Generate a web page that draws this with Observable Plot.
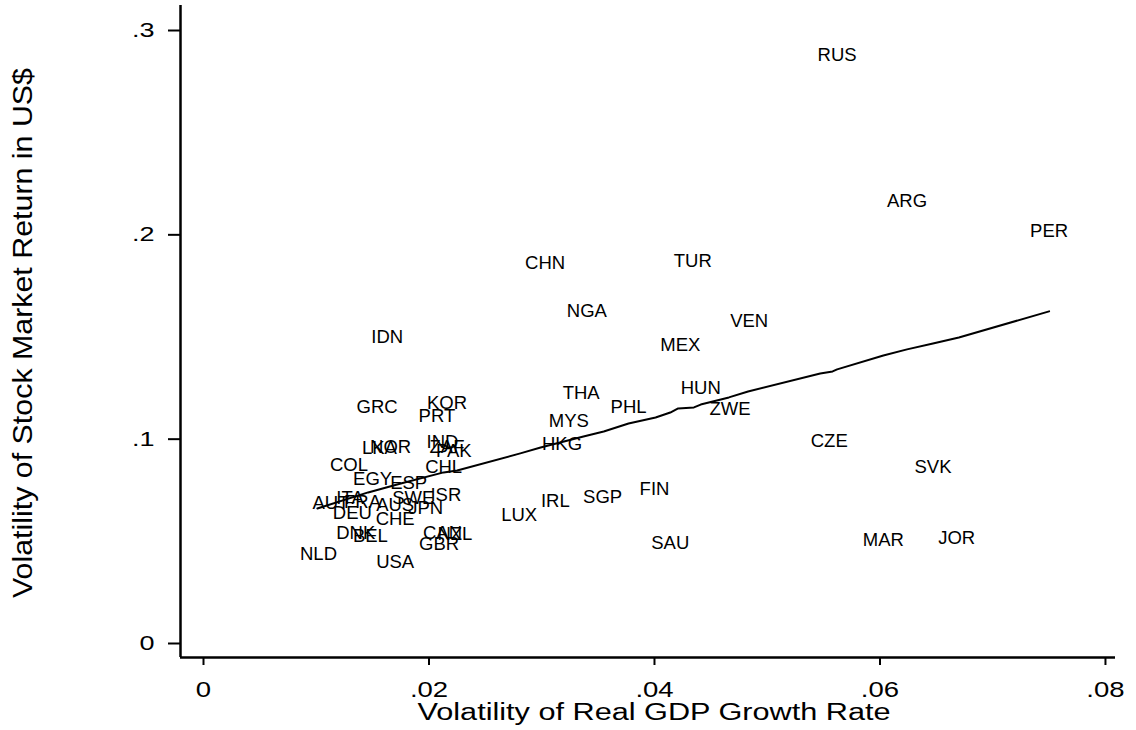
<!DOCTYPE html>
<html>
<head>
<meta charset="utf-8">
<script src="https://cdn.jsdelivr.net/npm/d3@7"></script>
<script src="https://cdn.jsdelivr.net/npm/@observablehq/plot@0.6"></script>
<style>
  html, body { margin: 0; padding: 0; background: #fff; }
  svg { display: block; }
</style>
</head>
<body>
<div id="chart"></div>
<script>
// Country labels
const countries = ["RUS","ARG","PER","CHN","TUR","NGA","VEN","MEX","IDN","HUN","ZWE","THA","PHL","MYS","HKG","CZE","SVK","FIN","SGP","IRL","LUX","SAU","MAR","JOR","GRC","KOR","PRT","LKA","NOR","IND","ZAF","PAK","CHL","COL","EGY","ESP","ISR","AUT","ITA","FRA","SWE","AUS","JPN","DEU","CHE","DNK","BEL","CAN","NZL","GBR","NLD","USA"];
// Volatility of real GDP growth rate
const gdpVol = [0.0562,0.0624,0.0750,0.0303,0.0434,0.0340,0.0484,0.0423,0.0163,0.0441,0.0467,0.0335,0.0377,0.0324,0.0318,0.0555,0.0647,0.0400,0.0354,0.0312,0.0280,0.0414,0.0603,0.0668,0.0154,0.0216,0.0207,0.0156,0.0166,0.0212,0.0216,0.0222,0.0213,0.0129,0.0150,0.0182,0.0215,0.0113,0.0130,0.0141,0.0186,0.0170,0.0197,0.0132,0.0170,0.0135,0.0148,0.0212,0.0223,0.0209,0.0102,0.0170];
// Volatility of stock market return in US$
const stockVol = [0.2849,0.2134,0.1987,0.1831,0.1840,0.1596,0.1547,0.1429,0.1468,0.1219,0.1116,0.1194,0.1126,0.1057,0.0945,0.0959,0.0832,0.0724,0.0685,0.0666,0.0597,0.0460,0.0475,0.0485,0.1126,0.1145,0.1082,0.0925,0.0930,0.0955,0.0930,0.0910,0.0832,0.0842,0.0775,0.0757,0.0699,0.0656,0.0680,0.0661,0.0680,0.0646,0.0631,0.0607,0.0578,0.0509,0.0494,0.0509,0.0504,0.0455,0.0406,0.0367];
// Fitted (smoothed) line vertices
const fitX = [0.0101,0.0146,0.0175,0.0213,0.0225,0.0281,0.0299,0.0337,0.0355,0.0377,0.0401,0.0414,0.0421,0.0435,0.0441,0.0466,0.0483,0.0547,0.0558,0.0562,0.0603,0.0624,0.0647,0.0670,0.0750];
const fitY = [0.0631,0.0710,0.0754,0.0808,0.0817,0.0901,0.0930,0.0984,0.1008,0.1047,0.1077,0.1101,0.1121,0.1126,0.1140,0.1175,0.1204,0.1292,0.1302,0.1312,0.1380,0.1410,0.1439,0.1468,0.1596];
// Axis ticks and titles
const xTicks = [0, 0.02, 0.04, 0.06, 0.08];
const yTicks = [0, 0.1, 0.2, 0.3];
const xTitle = "Volatility of Real GDP Growth Rate";
const yTitle = "Volatility of Stock Market Return in US$";

const pts = countries.map((c, i) => ({c, x: gdpVol[i], y: stockVol[i]}));
const fit = fitX.map((x, i) => ({x, y: fitY[i]}));
const xDomain = [-0.00204, 0.08089];
const yDomain = [-0.00979, 0.3093];
const fmt = d => d === 0 ? "0" : String(d).replace(/^0/, "");
const font = "'Liberation Sans', Arial, Helvetica, sans-serif";

const chart = Plot.plot({
  width: 1136,
  height: 730,
  marginLeft: 180,
  marginRight: 21,
  marginTop: 5,
  marginBottom: 73,
  style: {fontFamily: font, background: "#fff", color: "#000"},
  x: {domain: xDomain, axis: null},
  y: {domain: yDomain, axis: null},
  marks: [
    Plot.axisX({ticks: xTicks, tickFormat: fmt, tickSize: 8, tickPadding: 16, fontSize: 22, strokeWidth: 2, label: null}),
    Plot.axisY({ticks: yTicks, tickFormat: fmt, tickSize: 12, tickPadding: 14, fontSize: 20, strokeWidth: 2, dy: 6, label: null}),
    Plot.ruleX([xDomain[0]], {stroke: "#000", strokeWidth: 2.5}),
    Plot.ruleY([yDomain[0]], {stroke: "#000", strokeWidth: 2.5}),
    Plot.line(fit, {x: "x", y: "y", stroke: "#000", strokeWidth: 2}),
    Plot.text(pts, {x: "x", y: "y", text: "c", fontSize: 18.5, fill: "#000"})
  ]
});
document.getElementById("chart").appendChild(chart);

const svg = d3.select(chart);
// widen the tick labels like the reference's stretched axis text
svg.selectAll("g[aria-label='x-axis tick label'] text").each(function() {
  const w = this.getComputedTextLength();
  d3.select(this).attr("font-size", 22).attr("textLength", w * 1.25).attr("lengthAdjust", "spacingAndGlyphs");
});
svg.selectAll("g[aria-label='y-axis tick label'] text").each(function() {
  const w = this.getComputedTextLength();
  d3.select(this).attr("font-size", 20).attr("textLength", w * 1.35).attr("lengthAdjust", "spacingAndGlyphs");
});
// axis titles
svg.append("text")
  .attr("x", 654).attr("y", 720)
  .attr("text-anchor", "middle")
  .attr("font-family", font).attr("font-size", 23.5).attr("fill", "#000")
  .attr("textLength", 473).attr("lengthAdjust", "spacingAndGlyphs")
  .text(xTitle);
svg.append("text")
  .attr("transform", "translate(32,333) rotate(-90)")
  .attr("text-anchor", "middle")
  .attr("font-family", font).attr("font-size", 28).attr("fill", "#000")
  .attr("textLength", 530).attr("lengthAdjust", "spacingAndGlyphs")
  .text(yTitle);
</script>
</body>
</html>
